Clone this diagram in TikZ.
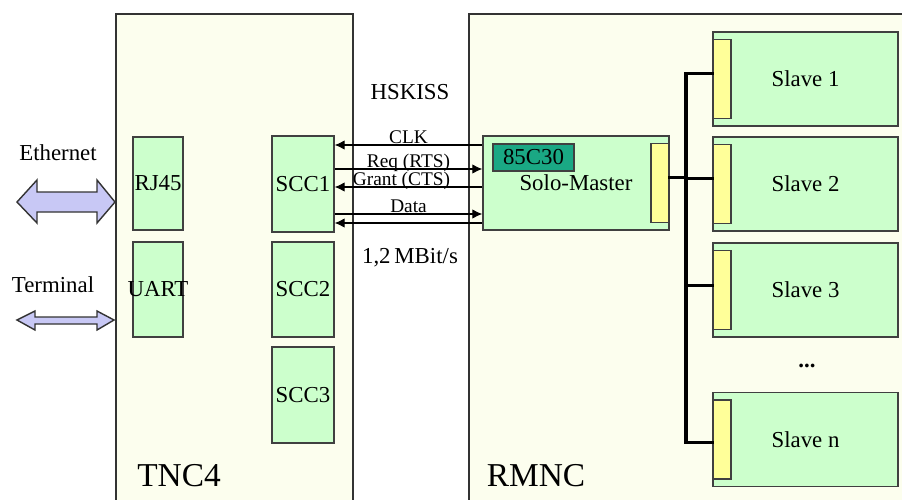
\documentclass[tikz,border=0pt]{standalone}
\usepackage{fontspec}
\setmainfont{Liberation Serif}
\usepackage{xcolor}
\usepackage{tikz}
\usetikzlibrary{arrows.meta,positioning,calc}
\definecolor{boardcream}{RGB}{252,254,238}
\definecolor{chipgreen}{RGB}{204,255,204}
\definecolor{portyellow}{RGB}{255,255,153}
\definecolor{sccteal}{RGB}{26,168,132}
\definecolor{lanlilac}{RGB}{200,200,245}
\tikzset{frame/.style={rectangle, draw=black!80, line width=0.9pt, fill=boardcream, anchor=north west, minimum height=10.4cm}, chip/.style={rectangle, draw=black!75, line width=0.8pt, fill=chipgreen, inner sep=0pt, font=\fontsize{13}{15}\selectfont}, port/.style={rectangle, draw=black!75, line width=0.8pt, fill=portyellow, minimum width=0.36cm, minimum height=1.58cm, inner sep=0pt}, slavebox/.style={chip, minimum width=3.70cm, minimum height=1.88cm}, sig/.style={line width=0.6pt, draw=black}, toscc/.style={sig, {Latex[length=2mm,width=1.9mm]}-}, tomst/.style={sig, -{Latex[length=2mm,width=1.9mm]}}, lbl/.style={font=\fontsize{11}{13}\selectfont, anchor=base, inner sep=0pt, yshift=1pt}, txt/.style={font=\fontsize{13}{15}\selectfont, inner sep=0pt}, big/.style={font=\fontsize{19}{22}\selectfont, inner sep=0pt}, bus/.style={line width=2pt, draw=black, line cap=rect}, lanarrow/.style={draw=black!80, line width=0.8pt, fill=lanlilac, line join=miter}}

\begin{document}
\begin{tikzpicture}
\useasboundingbox (0,0) rectangle (18.04,-9.98);
\fill[white] (0,0) rectangle (18.04,-9.98);
\clip (0,0) rectangle (18.04,-9.98);
% boards
\node[frame, minimum width=4.74cm] (tnc) at (2.30,-0.26) {};
\node[frame, minimum width=9.2cm] (rmnc) at (9.36,-0.26) {};
\node[big] (tnclbl) at (3.58,-9.52) {TNC4};
\node[big] (rmnclbl) at (10.72,-9.52) {RMNC};
% TNC4 parts
\node[chip, minimum width=1.0cm, minimum height=1.86cm] (rj) at (3.16,-3.67) {RJ45};
\node[chip, minimum width=1.0cm, minimum height=1.90cm] (uart) at (3.16,-5.79) {\makebox[0pt]{UART}};
\node[chip, minimum width=1.24cm, minimum height=1.92cm] (scc1) at (6.06,-3.68) {SCC1};
\node[chip, minimum width=1.24cm, minimum height=1.90cm] (scc2) at (6.06,-5.79) {SCC2};
\node[chip, minimum width=1.24cm, minimum height=1.92cm] (scc3) at (6.06,-7.90) {SCC3};
% outside links
\node[txt] (ethlbl) at (1.16,-3.06) {Ethernet};
\node[txt] (termlbl) at (1.06,-5.70) {Terminal};
\filldraw[lanarrow] (0.34,-4.04) -- (0.74,-3.60) -- (0.74,-3.84) -- (1.94,-3.84) -- (1.94,-3.60) -- (2.30,-4.04) -- (1.94,-4.46) -- (1.94,-4.24) -- (0.74,-4.24) -- (0.74,-4.46) -- cycle;
\filldraw[lanarrow] (0.34,-6.40) -- (0.70,-6.22) -- (0.70,-6.34) -- (1.94,-6.34) -- (1.94,-6.22) -- (2.28,-6.40) -- (1.94,-6.60) -- (1.94,-6.48) -- (0.70,-6.48) -- (0.70,-6.60) -- cycle;
% RMNC master
\node[chip, minimum width=3.72cm, minimum height=1.88cm] (mst) at (11.52,-3.66) {Solo-Master};
\node[chip, fill=sccteal, minimum width=1.62cm, minimum height=0.54cm] (esc) at (10.67,-3.15) {85C30};
\node[port, anchor=east] (mport) at (mst.east) {};
% HSKISS link
\node[txt] (hskiss) at (8.20,-1.84) {HSKISS};
\node[txt] (rate) at (8.20,-5.16) {1,2\,MBit/s};
\draw[toscc] ([yshift=0.78cm]scc1.east) -- ([yshift=0.78cm]scc1.east -| mst.west) node[lbl, midway] {CLK};
\draw[tomst] ([yshift=0.30cm]scc1.east) -- ([yshift=0.30cm]scc1.east -| mst.west) node[lbl, midway] {Req (RTS)};
\draw[toscc] ([yshift=-0.06cm]scc1.east) -- ([yshift=-0.06cm]scc1.east -| mst.west) node[lbl, midway, xshift=-4pt] {Grant (CTS)};
\draw[tomst] ([yshift=-0.60cm]scc1.east) -- ([yshift=-0.60cm]scc1.east -| mst.west) node[lbl, midway] {Data};
\draw[toscc] ([yshift=-0.78cm]scc1.east) -- ([yshift=-0.78cm]scc1.east -| mst.west);
% slaves
\foreach \i/\y/\name in {1/-1.58/{Slave 1},2/-3.68/{Slave 2},3/-5.80/{Slave 3},n/-8.79/{Slave n}} {\node[slavebox] (s\i) at (16.11,\y) {\name}; \node[port, anchor=west] (p\i) at (s\i.west) {};}
\node[txt] (dots) at (16.14,-7.32) {\textbf{...}};
% bus
\coordinate (busx) at (13.72,0);
\draw[bus] ([yshift=0.11cm]mport.east) -- ([yshift=0.11cm]mport.east -| busx);
\draw[bus] ([yshift=0.11cm]p1.west -| busx) -- ([yshift=-0.06cm]pn.west -| busx);
\foreach \i/\dy in {1/0.11,2/0.11,3/0.09,n/-0.06} {\draw[bus] ([yshift=\dy cm]p\i.west) -- ([yshift=\dy cm]p\i.west -| busx);}
\end{tikzpicture}
\end{document}
